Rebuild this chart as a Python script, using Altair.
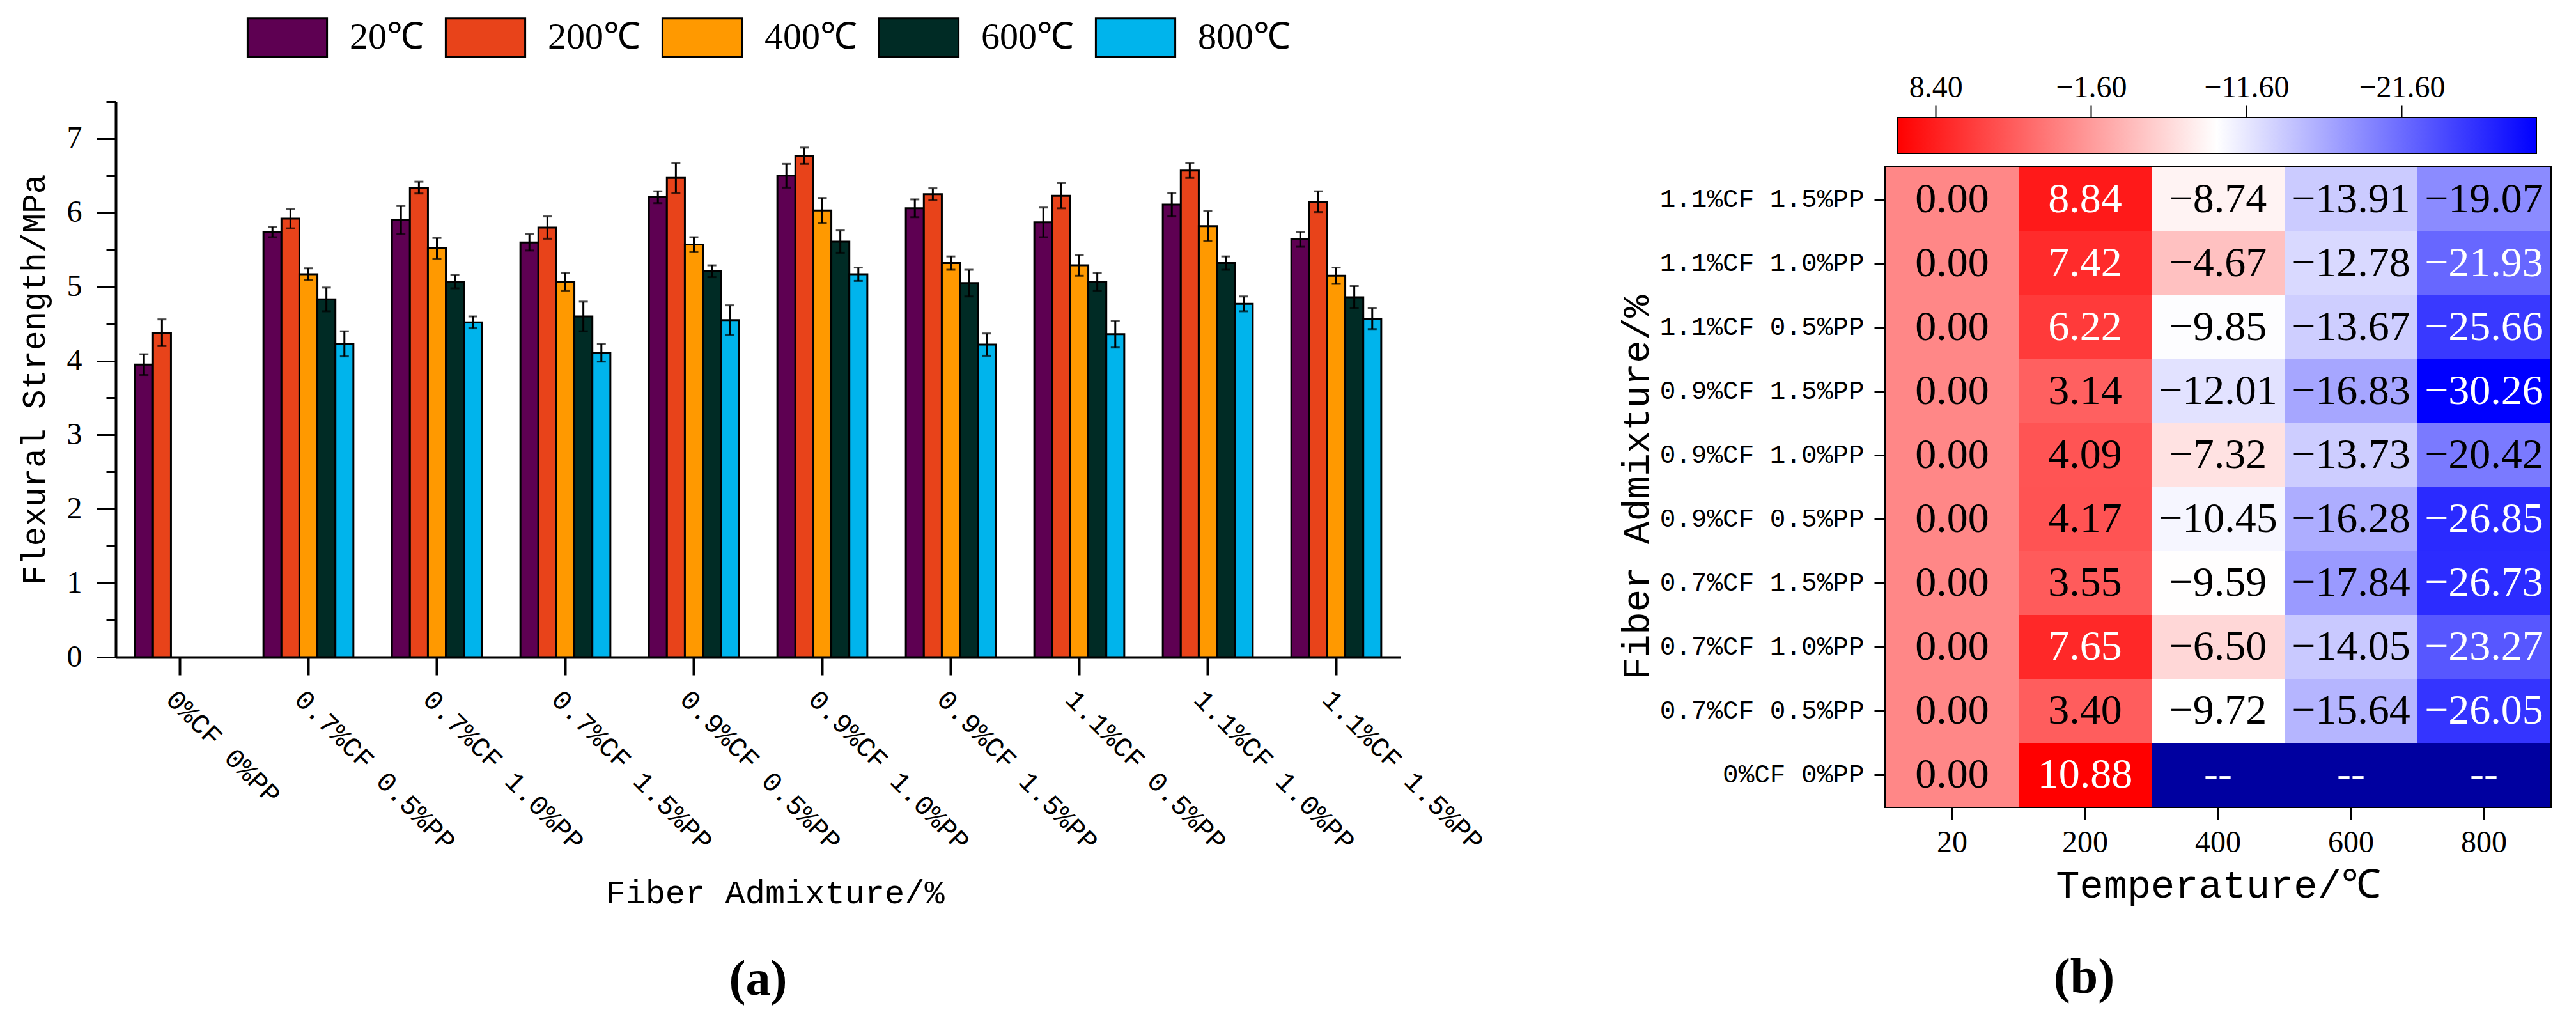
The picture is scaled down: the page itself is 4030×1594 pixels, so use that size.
import altair as alt
import pandas as pd

# ---------------- data ----------------
categories = ["0%CF 0%PP", "0.7%CF 0.5%PP", "0.7%CF 1.0%PP", "0.7%CF 1.5%PP",
              "0.9%CF 0.5%PP", "0.9%CF 1.0%PP", "0.9%CF 1.5%PP",
              "1.1%CF 0.5%PP", "1.1%CF 1.0%PP", "1.1%CF 1.5%PP"]
temps = ["20℃", "200℃", "400℃", "600℃", "800℃"]
temp_ticks = ["20", "200", "400", "600", "800"]
bar_colors = ["#5E0052", "#E8431A", "#FF9900", "#002B25", "#00B4EC"]

# flexural strength (MPa), panel (a)
strength_20 = [3.95, 5.74, 5.90, 5.60, 6.21, 6.50, 6.06, 5.87, 6.11, 5.64]
strength_200 = [4.38, 5.92, 6.34, 5.80, 6.47, 6.77, 6.25, 6.23, 6.57, 6.15]
strength_400 = [None, 5.17, 5.52, 5.07, 5.57, 6.03, 5.32, 5.29, 5.82, 5.15]
strength_600 = [None, 4.83, 5.07, 4.60, 5.21, 5.61, 5.05, 5.07, 5.32, 4.86]
strength_800 = [None, 4.23, 4.52, 4.11, 4.55, 5.17, 4.22, 4.36, 4.77, 4.57]

error_20 = [0.14, 0.07, 0.19, 0.11, 0.08, 0.16, 0.12, 0.20, 0.16, 0.10]
error_200 = [0.18, 0.13, 0.08, 0.15, 0.20, 0.11, 0.08, 0.17, 0.10, 0.14]
error_400 = [None, 0.08, 0.14, 0.12, 0.10, 0.17, 0.09, 0.14, 0.20, 0.11]
error_600 = [None, 0.16, 0.09, 0.20, 0.08, 0.15, 0.18, 0.12, 0.09, 0.15]
error_800 = [None, 0.17, 0.08, 0.12, 0.20, 0.09, 0.15, 0.18, 0.10, 0.14]

# rate of change (%), panel (b)
change_20 = [0.00, 0.00, 0.00, 0.00, 0.00, 0.00, 0.00, 0.00, 0.00, 0.00]
change_200 = [10.88, 3.40, 7.65, 3.55, 4.17, 4.09, 3.14, 6.22, 7.42, 8.84]
change_400 = [None, -9.72, -6.50, -9.59, -10.45, -7.32, -12.01, -9.85, -4.67, -8.74]
change_600 = [None, -15.64, -14.05, -17.84, -16.28, -13.73, -16.83, -13.67, -12.78, -13.91]
change_800 = [None, -26.05, -23.27, -26.73, -26.85, -20.42, -30.26, -25.66, -21.93, -19.07]

colorbar_ticks = [8.40, -1.60, -11.60, -21.60]
y_ticks = [0, 0.5, 1, 1.5, 2, 2.5, 3, 3.5, 4, 4.5, 5, 5.5, 6, 6.5, 7, 7.5]

# ---------------- tables ----------------
rows = []
for t, vals, errs in zip(temps,
                         [strength_20, strength_200, strength_400, strength_600, strength_800],
                         [error_20, error_200, error_400, error_600, error_800]):
    for c, v, e in zip(categories, vals, errs):
        if v is None:
            continue
        rows.append({"category": c, "temp": t, "value": v, "lo": v - e, "hi": v + e})
bar_df = pd.DataFrame(rows)

hrows = []
for t, vals in zip(temp_ticks, [change_20, change_200, change_400, change_600, change_800]):
    for c, v in zip(categories, vals):
        lab = "--" if v is None else f"{v:.2f}".replace("-", "\u2212")
        hrows.append({"category": c, "temp": t, "value": v, "label": lab})
heat_df = pd.DataFrame(hrows)

valid = [v for lst in [change_20, change_200, change_400, change_600, change_800] for v in lst if v is not None]
cmax, cmin = max(valid), min(valid)
cmid = (cmax + cmin) / 2.0
white_pos = (cmax - cmid) / (cmax - cmin)

MONO = "Liberation Mono"
SERIF = "Liberation Serif"

# ---------------- panel (a) ----------------
x_enc = alt.X("category:N", sort=categories,
              scale=alt.Scale(domain=categories, paddingInner=0.3, paddingOuter=0.15),
              axis=alt.Axis(title="Fiber Admixture/%", labelAngle=45, labelAlign="left",
                            labelBaseline="top", labelFont=MONO, labelFontSize=43,
                            labelLimit=800, labelPadding=16, tickSize=28, tickWidth=4,
                            domainWidth=4, titleFont=MONO, titleFontSize=52,
                            titleFontWeight="normal", titleX=1031, titleY=368,
                            titleBaseline="middle", titleAlign="center"))
xo_enc = alt.XOffset("temp:N", sort=temps,
                     scale=alt.Scale(domain=temps, paddingInner=0, paddingOuter=0))

base = alt.Chart(bar_df)
bars = base.mark_bar(stroke="black", strokeWidth=3).encode(
    x=x_enc,
    xOffset=xo_enc,
    y=alt.Y("value:Q",
            scale=alt.Scale(domain=[0, 7.5], nice=False, zero=True),
            axis=alt.Axis(title="Flexural Strength/MPa",
                          values=y_ticks,
                          labelExpr="datum.value % 1 === 0 ? format(datum.value, 'd') : ''",
                          tickSize={"condition": {"test": "datum.value % 1 === 0", "value": 30}, "value": 15},
                          tickWidth=3, domainWidth=4, labelFont=SERIF, labelFontSize=48,
                          labelPadding=23, titleFont=MONO, titleFontSize=51,
                          titleFontWeight="normal", titlePadding=24)),
    color=alt.Color("temp:N", sort=temps,
                    scale=alt.Scale(domain=temps, range=bar_colors),
                    legend=alt.Legend(title=None, orient="none", direction="horizontal",
                                      columns=5, legendX=237, legendY=-132,
                                      symbolType="M-2.07,-1L2.07,-1L2.07,1L-2.07,1Z",
                                      symbolSize=3600, symbolStrokeColor="black",
                                      symbolStrokeWidth=3, symbolOpacity=1,
                                      labelFont=SERIF, labelFontSize=58, labelOffset=66,
                                      columnPadding=28)),
)
err = base.mark_rule(color="black", strokeWidth=3).encode(
    x=alt.X("category:N", sort=categories), xOffset=xo_enc,
    y="lo:Q", y2="hi:Q")
cap_lo = base.mark_tick(color="black", thickness=3, size=14).encode(
    x=alt.X("category:N", sort=categories), xOffset=xo_enc, y="lo:Q")
cap_hi = base.mark_tick(color="black", thickness=3, size=14).encode(
    x=alt.X("category:N", sort=categories), xOffset=xo_enc, y="hi:Q")

panel_a = alt.layer(bars, err, cap_lo, cap_hi).properties(
    width=2010, height=869,
    title=alt.Title("(a)", orient="bottom", font=SERIF, fontSize=78,
                    fontWeight="bold", offset=72, anchor="middle"),
)

# ---------------- panel (b) ----------------
cb_df = pd.DataFrame({"hi": [cmax], "lo": [cmin]})
gradient = {"gradient": "linear", "x1": 0, "y1": 0, "x2": 1, "y2": 0,
            "stops": [{"offset": 0, "color": "#ff0000"},
                      {"offset": white_pos, "color": "#ffffff"},
                      {"offset": 1, "color": "#0000ff"}]}
colorbar = alt.Chart(cb_df).mark_rect(fill=gradient, stroke="black", strokeWidth=2).encode(
    x=alt.X("hi:Q",
            scale=alt.Scale(domain=[cmax, cmin], range=[18, 1018], nice=False, zero=False),
            axis=alt.Axis(orient="top", values=colorbar_ticks, format=".2f", title=None,
                          domain=False, tickSize=19, tickWidth=2, offset=-25,
                          labelFont=SERIF, labelFontSize=48, labelPadding=4)),
    x2="lo:Q",
    y=alt.value(25), y2=alt.value(81),
).properties(width=1040, height=83, view=alt.ViewBackground(stroke=None))

hx = alt.X("temp:N", sort=temp_ticks,
           scale=alt.Scale(domain=temp_ticks, paddingInner=0, paddingOuter=0),
           axis=alt.Axis(title="Temperature/℃", labelAngle=0, labelFont=SERIF,
                         labelFontSize=48, tickSize=20, tickWidth=3, domain=False,
                         labelPadding=12, titleFont=MONO, titleFontSize=62,
                         titleFontWeight="normal", titlePadding=12))
hy = alt.Y("category:N", sort=list(reversed(categories)),
           scale=alt.Scale(domain=list(reversed(categories)), paddingInner=0, paddingOuter=0),
           axis=alt.Axis(title="Fiber Admixture/%", labelFont=MONO, labelFontSize=41,
                         labelLimit=800, tickSize=18, tickWidth=3, domain=False,
                         labelPadding=16, titleFont=MONO, titleFontSize=59,
                         titleFontWeight="normal", titleX=-390, titleY=500,
                         titleAngle=-90, titleBaseline="middle", titleAlign="center"))

hbase = alt.Chart(heat_df)
cells = hbase.mark_rect().encode(
    x=hx, y=hy,
    color=alt.Color("value:Q",
                    scale=alt.Scale(domain=[cmin, cmid, cmax],
                                    range=["#0000ff", "#ffffff", "#ff0000"],
                                    interpolate="rgb", nice=False, zero=False),
                    legend=None),
).transform_filter("isValid(datum.value)")
missing = hbase.mark_rect(color="#0000A0").encode(x=hx, y=hy).transform_filter(
    "!isValid(datum.value)")
labels = hbase.mark_text(font=SERIF, fontSize=66).encode(
    x=hx, y=hy, text="label:N",
    color=alt.condition("!isValid(datum.value) || datum.value > 5 || datum.value < -21",
                        alt.value("white"), alt.value("black")),
)
heat = alt.layer(cells, missing, labels).properties(
    width=1040, height=1000,
    view=alt.ViewBackground(stroke="black", strokeWidth=4),
    title=alt.Title("(b)", orient="bottom", font=SERIF, fontSize=78,
                    fontWeight="bold", offset=76, anchor="middle", frame="bounds"),
)

panel_b = alt.vconcat(colorbar, heat, spacing=18)

chart = alt.hconcat(panel_a, panel_b, spacing=200).properties(
    padding={"left": 20, "top": 19, "right": 5, "bottom": 5}
).configure_axis(
    grid=False, domainColor="black", tickColor="black", labelColor="black",
    titleColor="black"
).configure_view(stroke=None).configure_legend(
    labelColor="black"
).configure_title(color="black")

chart.save("out.html", embed_options={"renderer": "svg", "actions": False})
